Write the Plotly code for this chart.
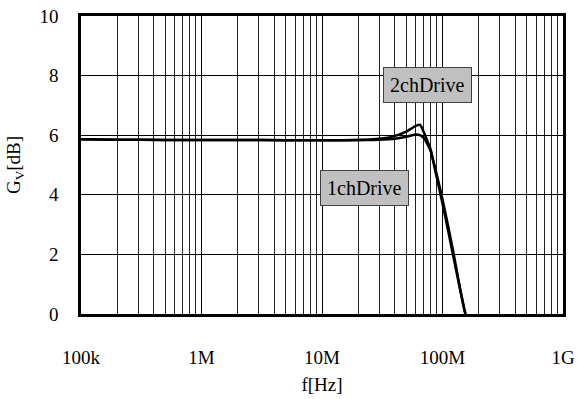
import plotly.graph_objects as go

# Frequency points (Hz)
freq_hz = [1e5, 2e5, 5e5, 1e6, 2e6, 5e6, 1e7, 2e7, 3e7, 4e7, 5e7, 5.5e7, 6e7, 6.5e7,
           7e7, 7.5e7, 8e7, 8.5e7, 9e7, 1e8, 1.1e8, 1.2e8, 1.3e8, 1.4e8, 1.5e8, 1.55e8]

gain_2ch = [5.86, 5.85, 5.84, 5.84, 5.84, 5.83, 5.83, 5.84, 5.88, 5.97, 6.12, 6.22, 6.31, 6.35,
            6.10, 5.80, 5.50, 5.00, 4.55, 3.70, 2.90, 2.15, 1.45, 0.82, 0.24, 0.0]

gain_1ch = [5.86, 5.85, 5.84, 5.84, 5.84, 5.83, 5.83, 5.84, 5.85, 5.88, 5.95, 5.99, 6.02, 6.00,
            5.90, 5.70, 5.45, 5.05, 4.65, 3.85, 3.05, 2.30, 1.55, 0.85, 0.25, 0.0]

x_tick_vals = [1e5, 1e6, 1e7, 1e8, 1e9]
x_tick_text = ["100k", "1M", "10M", "100M", "1G"]
y_tick_vals = [0, 2, 4, 6, 8, 10]

FONT = "Liberation Serif, Times New Roman, serif"

fig = go.Figure()
fig.add_trace(go.Scatter(x=freq_hz, y=gain_2ch, mode="lines", name="2chDrive",
                         line=dict(color="black", width=2.5, shape="spline", smoothing=0.6)))
fig.add_trace(go.Scatter(x=freq_hz, y=gain_1ch, mode="lines", name="1chDrive",
                         line=dict(color="black", width=2.5, shape="spline", smoothing=0.6)))

fig.add_annotation(x=7.876, y=7.67, xref="x", yref="y", text="2chDrive", showarrow=False,
                   bgcolor="#c0c0c0", bordercolor="#404040", borderwidth=1, borderpad=6,
                   font=dict(family=FONT, size=20, color="black"))
fig.add_annotation(x=7.349, y=4.245, xref="x", yref="y", text="1chDrive", showarrow=False,
                   bgcolor="#c0c0c0", bordercolor="#404040", borderwidth=1, borderpad=6,
                   font=dict(family=FONT, size=20, color="black"))

fig.update_layout(
    width=577, height=399,
    margin=dict(l=81, r=14, t=16, b=85),
    paper_bgcolor="white", plot_bgcolor="white",
    showlegend=False,
    font=dict(family=FONT, size=19, color="black"),
    xaxis=dict(
        type="log", range=[5, 9], automargin=False,
        tickvals=x_tick_vals, ticktext=x_tick_text,
        tickfont=dict(family=FONT, size=19, color="black"),
        showgrid=True, gridcolor="black", gridwidth=1,
        minor=dict(dtick="D1", showgrid=True, gridcolor="#222", gridwidth=1, ticks=""),
        showline=True, linecolor="black", linewidth=2.5, mirror=True,
        ticks="", ticklabelstandoff=24, zeroline=False,
        title=dict(text="f[Hz]", standoff=12, font=dict(family=FONT, size=19, color="black")),
    ),
    yaxis=dict(
        range=[0, 10], tickvals=y_tick_vals, automargin=False,
        tickfont=dict(family=FONT, size=19, color="black"),
        showgrid=True, gridcolor="black", gridwidth=1,
        showline=True, linecolor="black", linewidth=2.5, mirror=True,
        ticks="", ticklabelstandoff=16, zeroline=False,
        title=dict(text="G<sub>V</sub>[dB]", standoff=14, font=dict(family=FONT, size=19, color="black")),
    ),
)

fig.write_html("out.html")
